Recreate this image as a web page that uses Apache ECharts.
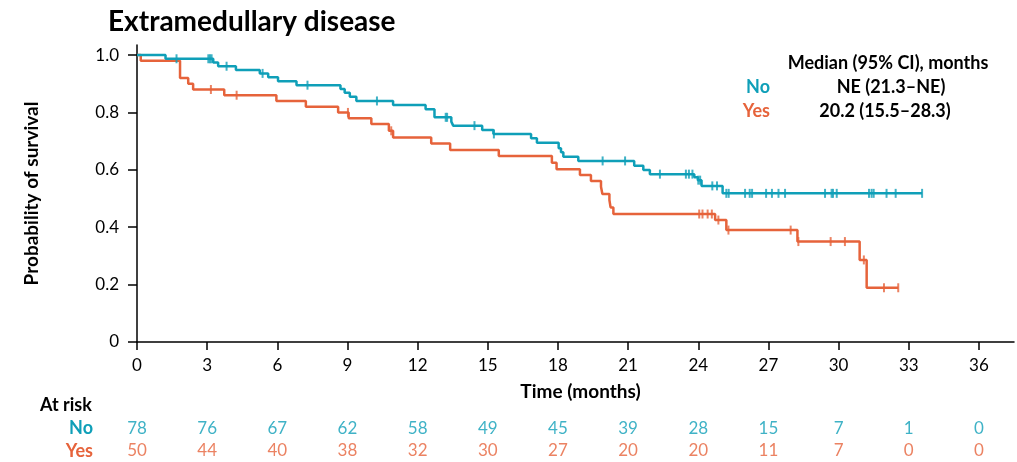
<!DOCTYPE html>
<html>
<head>
<meta charset="utf-8">
<script src="https://cdn.jsdelivr.net/npm/echarts@6/dist/echarts.min.js"></script>
<style>
  html, body { margin: 0; padding: 0; background: #fff; }
  #chart { width: 1017px; height: 462px; }
</style>
</head>
<body>
<div id="chart"></div>
<script>
// 数据
var xTicks = [0, 3, 6, 9, 12, 15, 18, 21, 24, 27, 30, 33, 36];
var yTicks = [0, 0.2, 0.4, 0.6, 0.8, 1.0];

// No: step times and survival after each step
var noTimes = [0, 1.22, 3.26, 3.47, 4.23, 5.25, 5.61, 6.03, 6.82, 8.70, 8.88, 9.10, 9.38, 10.95, 12.34, 12.72, 13.44, 13.52, 14.76, 15.24, 16.85, 17.10, 18.03, 18.13, 18.23, 18.87, 21.26, 21.65, 21.93, 23.83, 23.98, 24.14, 25.04];
var noSurv = [1.0, 0.987, 0.974, 0.961, 0.948, 0.936, 0.923, 0.909, 0.895, 0.882, 0.869, 0.855, 0.840, 0.826, 0.811, 0.783, 0.768, 0.754, 0.739, 0.725, 0.710, 0.694, 0.675, 0.661, 0.646, 0.631, 0.614, 0.599, 0.585, 0.574, 0.564, 0.544, 0.518];
var noCensor = [1.69, 3.05, 3.12, 3.19, 3.83, 5.37, 7.29, 10.26, 13.20, 13.26, 14.43, 15.26, 19.91, 20.87, 22.36, 23.47, 23.60, 23.75, 24.00, 24.08, 24.60, 24.80, 25.20, 25.30, 26.00, 26.20, 26.30, 26.90, 27.15, 27.43, 27.71, 29.42, 29.70, 29.76, 29.92, 31.30, 31.41, 31.50, 32.05, 32.44, 33.57];

// Yes
var yesTimes = [0, 0.16, 1.84, 2.19, 2.40, 3.73, 5.96, 7.22, 8.60, 9.05, 10.02, 10.77, 10.95, 12.58, 13.39, 15.47, 17.74, 17.94, 18.94, 19.41, 19.84, 19.90, 20.20, 20.25, 20.37, 24.72, 25.20, 28.24, 30.90, 31.20];
var yesSurv = [1.0, 0.98, 0.92, 0.90, 0.88, 0.86, 0.84, 0.82, 0.80, 0.78, 0.76, 0.736, 0.713, 0.692, 0.669, 0.648, 0.625, 0.602, 0.582, 0.561, 0.541, 0.516, 0.495, 0.469, 0.446, 0.425, 0.390, 0.350, 0.286, 0.189];
var yesCensor = [3.16, 4.26, 9.02, 10.87, 24.04, 24.18, 24.40, 24.58, 24.86, 25.29, 27.95, 28.28, 29.66, 30.27, 31.08, 31.94, 32.55];

// 风险人数
var riskNo = [78, 76, 67, 62, 58, 49, 45, 39, 28, 15, 7, 1, 0];
var riskYes = [50, 44, 40, 38, 32, 30, 27, 20, 20, 11, 7, 0, 0];

var colorNo = '#0f9fb8';
var colorYes = '#e6633b';
var fontFam = 'Lato, "Open Sans", sans-serif';

function survAt(times, surv, t) {
  var s = surv[0];
  for (var i = 0; i < times.length; i++) {
    if (times[i] <= t) s = surv[i];
  }
  return s;
}

function stepLine(times, surv, endT) {
  var pts = [[times[0], surv[0]]];
  for (var i = 1; i < times.length; i++) {
    pts.push([times[i], surv[i - 1]]);
    pts.push([times[i], surv[i]]);
  }
  pts.push([endT, surv[surv.length - 1]]);
  return pts;
}

function censorPts(times, surv, cens) {
  return cens.map(function (t) { return [t, survAt(times, surv, t)]; });
}

function riskPts(row, counts) {
  return xTicks.map(function (t, i) { return [t, row, counts[i]]; });
}

var myChart = echarts.init(document.getElementById('chart'));

var option = {
  animation: false,
  textStyle: { fontFamily: fontFam },
  title: {
    text: 'Extramedullary disease',
    left: 103, top: 3,
    textStyle: { fontSize: 28, fontWeight: 'bold', color: '#000', fontFamily: fontFam }
  },
  grid: [
    { left: 137, right: 3, top: 45, bottom: 120 },
    { left: 137, right: 3, top: 417, height: 50 }
  ],
  xAxis: [
    {
      gridIndex: 0, type: 'value', min: 0, max: 37.5,
      name: 'Time (months)', nameLocation: 'middle', nameGap: 40,
      nameTextStyle: { fontSize: 19, fontWeight: 'bold', color: '#000', padding: [0, 0, 0, 10] },
      axisLine: { lineStyle: { color: '#000', width: 1.5 } },
      axisTick: { customValues: xTicks, length: 8, lineStyle: { color: '#000', width: 1.5 } },
      axisLabel: { customValues: xTicks, fontSize: 17, color: '#000', margin: 15 },
      splitLine: { show: false }
    },
    {
      gridIndex: 1, type: 'value', min: 0, max: 37.5, show: false
    }
  ],
  yAxis: [
    {
      gridIndex: 0, type: 'value', min: 0, max: 1.035,
      name: 'Probability of survival', nameLocation: 'middle', nameGap: 96,
      nameTextStyle: { fontSize: 19, fontWeight: 'bold', color: '#000' },
      axisLine: { show: true, lineStyle: { color: '#000', width: 1.5 } },
      axisTick: { show: true, customValues: yTicks, length: 9, lineStyle: { color: '#000', width: 1.5 } },
      axisLabel: {
        customValues: yTicks, fontSize: 17, color: '#000', margin: 18,
        formatter: function (v) { return v === 0 ? '0' : v.toFixed(1); }
      },
      splitLine: { show: false }
    },
    {
      gridIndex: 1, type: 'category', data: ['No', 'Yes'], inverse: true,
      axisLine: { show: false }, axisTick: { show: false },
      axisLabel: {
        interval: 0, fontSize: 18, fontWeight: 'bold', margin: 44,
        color: function (v) { return v === 'No' ? colorNo : colorYes; }
      }
    }
  ],
  graphic: [
    { type: 'text', x: 40, y: 405, style: { text: 'At risk', font: 'bold 18px ' + fontFam, fill: '#000', verticalAlign: 'middle' } },
    { type: 'text', x: 888, y: 63, style: { text: 'Median (95% CI), months', font: 'bold 18px ' + fontFam, fill: '#000', align: 'center', verticalAlign: 'middle' } },
    { type: 'text', x: 770, y: 87, style: { text: 'No', font: 'bold 18px ' + fontFam, fill: colorNo, align: 'right', verticalAlign: 'middle' } },
    { type: 'text', x: 891, y: 87, style: { text: 'NE (21.3\u2013NE)', font: 'bold 18px ' + fontFam, fill: '#000', align: 'center', verticalAlign: 'middle' } },
    { type: 'text', x: 770, y: 111, style: { text: 'Yes', font: 'bold 18px ' + fontFam, fill: colorYes, align: 'right', verticalAlign: 'middle' } },
    { type: 'text', x: 885, y: 111, style: { text: '20.2 (15.5\u201328.3)', font: 'bold 18px ' + fontFam, fill: '#000', align: 'center', verticalAlign: 'middle' } }
  ],
  series: [
    {
      name: 'No', type: 'line', xAxisIndex: 0, yAxisIndex: 0,
      data: stepLine(noTimes, noSurv, noCensor[noCensor.length - 1]),
      showSymbol: false, lineStyle: { color: colorNo, width: 2.5 }, z: 3
    },
    {
      name: 'Yes', type: 'line', xAxisIndex: 0, yAxisIndex: 0,
      data: stepLine(yesTimes, yesSurv, yesCensor[yesCensor.length - 1]),
      showSymbol: false, lineStyle: { color: colorYes, width: 2.5 }, z: 2
    },
    {
      type: 'scatter', xAxisIndex: 0, yAxisIndex: 0,
      data: censorPts(noTimes, noSurv, noCensor),
      symbol: 'rect', symbolSize: [2, 9], itemStyle: { color: colorNo }, z: 4
    },
    {
      type: 'scatter', xAxisIndex: 0, yAxisIndex: 0,
      data: censorPts(yesTimes, yesSurv, yesCensor),
      symbol: 'rect', symbolSize: [2, 9], itemStyle: { color: colorYes }, z: 4
    },
    {
      type: 'scatter', xAxisIndex: 1, yAxisIndex: 1,
      data: riskPts('No', riskNo), symbolSize: 0,
      label: { show: true, position: 'inside', fontSize: 17, color: colorNo,
        formatter: function (p) { return p.value[2]; } }
    },
    {
      type: 'scatter', xAxisIndex: 1, yAxisIndex: 1,
      data: riskPts('Yes', riskYes), symbolSize: 0,
      label: { show: true, position: 'inside', fontSize: 17, color: colorYes,
        formatter: function (p) { return p.value[2]; } }
    }
  ]
};
myChart.setOption(option);
</script>
</body>
</html>
